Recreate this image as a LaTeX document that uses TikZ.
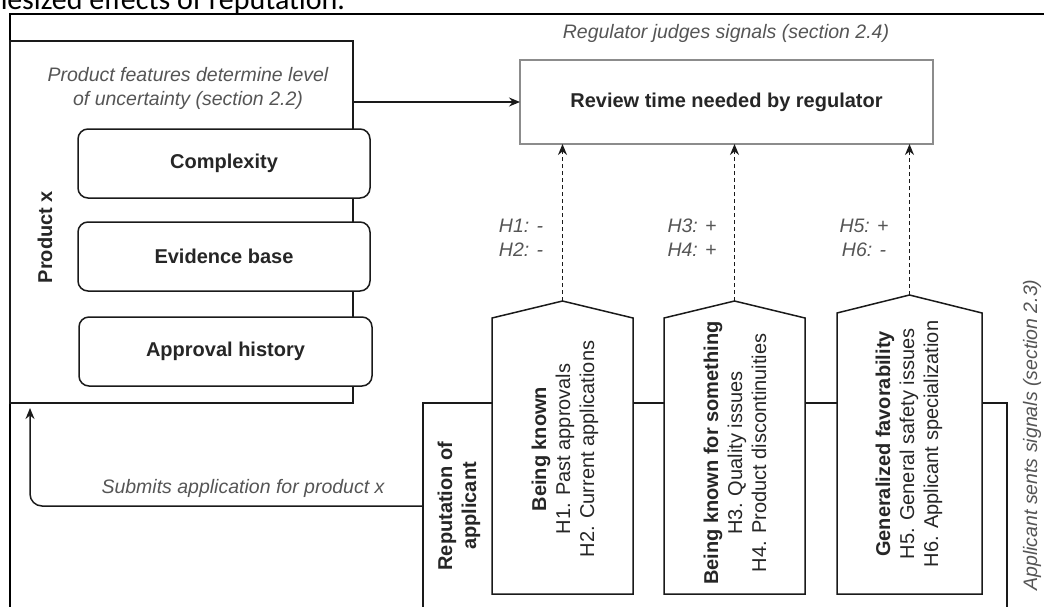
\documentclass[tikz,border=0pt]{standalone}
\usepackage{fontspec}
\setmainfont{Liberation Sans}
\newfontfamily\capfont{Carlito}
\usetikzlibrary{arrows.meta}
\definecolor{lblc}{HTML}{555555}
\definecolor{txtc}{HTML}{262626}
\definecolor{lnc}{HTML}{1A1A1A}
\definecolor{boxg}{HTML}{8C8C8C}
\begin{document}
\begin{tikzpicture}[x=1pt,y=-1pt,
 every node/.style={inner sep=0pt, outer sep=0pt},
 lbl/.style={font=\fontsize{19.5}{24}\selectfont\itshape, text=lblc, align=center},
 boldtxt/.style={font=\fontsize{20}{24}\selectfont\bfseries, text=txtc, align=center},
 bodytxt/.style={font=\fontsize{20}{24}\selectfont, text=txtc, align=center},
 feat/.style={draw=lnc, line width=1.5pt, rounded corners=10pt, minimum width=292pt, minimum height=69pt, fill=white, boldtxt},
 arr/.style={-{Stealth[length=11pt,width=9pt]}, line width=1.5pt, draw=lnc},
 dasharr/.style={arr, dash pattern=on 4pt off 3pt},
 pent/.style={draw=lnc, line width=1.5pt, fill=white},
 pentbody/.style={minimum width=141pt, minimum height=276pt}
]
\useasboundingbox (0,0) rectangle (1044,606);
\clip (0,0) rectangle (1044,606);

% cropped caption line at the top
\node (cap) [font=\capfont\fontsize{30}{36}\selectfont, anchor=base east, text=black] at (345,9) {hypothesized effects of reputation.};

% outer frame
\draw[line width=2.8pt, draw=black] (10,14) rectangle (1080,660);

% product box
\node (prod) [draw=lnc, line width=1.5pt, anchor=north west, minimum width=343pt, minimum height=362pt] at (10,41) {};
\node (prodlbl) [boldtxt, rotate=90] at (45,237) {Product x};
\node (pf) [lbl] at (188,88) {Product features determine level\\of uncertainty (section 2.2)};
\node (cx) [feat] at (224,163.5) {Complexity};
\node (eb) [feat] at (224,256.5) {Evidence base};
\node (ah) [feat, minimum width=293pt] at (225.5,351.5) {Approval history};

% regulator
\node (reglbl) [lbl] at (726,33) {Regulator judges signals (section 2.4)};
\node (rev) [draw=boxg, line width=1.5pt, minimum width=413pt, minimum height=84pt, boldtxt] at (726.5,102) {Review time needed by regulator};
\draw[arr] (prod.east |- rev.west) -- (rev.west);

% reputation box
\node (rep) [draw=lnc, line width=1.2pt, anchor=north west, minimum width=584pt, minimum height=240pt] at (423,403) {};
\node (replbl) [boldtxt, rotate=90] at (459,506) {Reputation of\\applicant};

% pentagons
\node (p1) [pentbody] at (562.5,456) {};
\node (p2) [pentbody] at (734.5,456) {};
\node (p3) [pentbody, minimum width=145pt, minimum height=281pt] at (909.5,453.5) {};
\coordinate (t1) at ([yshift=17pt]p1.north);
\coordinate (t2) at ([yshift=17pt]p2.north);
\coordinate (t3) at ([yshift=18pt]p3.north);
\draw[pent] (p1.south west) -- (p1.north west) -- (t1) -- (p1.north east) -- (p1.south east) -- cycle;
\draw[pent] (p2.south west) -- (p2.north west) -- (t2) -- (p2.north east) -- (p2.south east) -- cycle;
\draw[pent] (p3.south west) -- (p3.north west) -- (t3) -- (p3.north east) -- (p3.south east) -- cycle;

\node (p1t) [bodytxt, rotate=90] at (565,449) {\textbf{Being known}\\H1. Past approvals\\H2. Current applications};
\node (p2t) [bodytxt, rotate=90] at (735,453) {\textbf{Being known for something}\\H3. Quality issues\\H4. Product discontinuities};
\node (p3t) [bodytxt, rotate=90] at (909,444) {\textbf{Generalized favorability}\\H5. General safety issues\\H6. Applicant specialization};

% dashed arrows
\draw[dasharr] (t1) -- (t1 |- rev.south);
\draw[dasharr] (t2) -- (t2 |- rev.south);
\draw[dasharr] (t3) -- (t3 |- rev.south);
\node (h12) [lbl] at (521,238) {H1: -\\H2: -};
\node (h34) [lbl] at (692,238) {H3: +\\H4: +};
\node (h56) [lbl] at (864,238) {H5: +\\H6: -};

% submit arrow
\coordinate (sub) at ([yshift=-103pt]rep.north west);
\coordinate (subend) at ([xshift=20pt, yshift=-5pt]prod.south west);
\draw[arr, rounded corners=12pt] (sub) -- (subend |- sub) -- (subend);
\node (sublbl) [lbl] at (243,488) {Submits application for product x};

% applicant label
\node (applbl) [lbl, rotate=90] at (1032,435) {Applicant sents signals (section 2.3)};
\end{tikzpicture}
\end{document}
